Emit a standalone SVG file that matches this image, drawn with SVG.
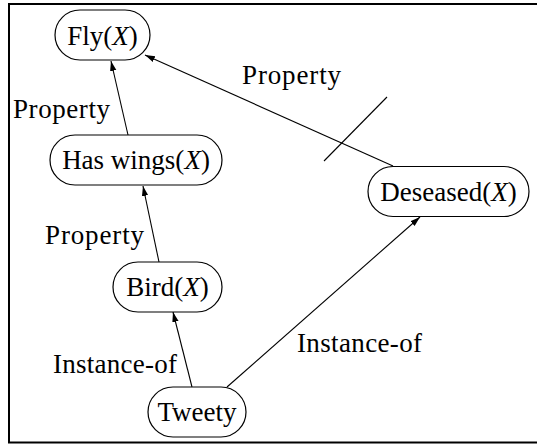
<svg xmlns="http://www.w3.org/2000/svg" width="537" height="444" viewBox="0 0 537 444">
<style>
.node rect{fill:#fff;stroke:#000;stroke-width:1.2}
.edge{stroke:#000;stroke-width:1.1;fill:none}
</style>
<defs>
<marker id="arr" markerUnits="userSpaceOnUse" markerWidth="10" markerHeight="8" viewBox="0 0 10 8" refX="10" refY="4" orient="auto">
<path d="M0,0.8 L10,4 L0,7.2 Z" fill="#000"/>
</marker>
</defs>
<rect x="9" y="4" width="531" height="438.5" fill="none" stroke="#000" stroke-width="2"/>
<g id="connectors">
<path class="edge" d="M128,135 L111,61" marker-end="url(#arr)"/>
<path class="edge" d="M159,262 L143,186" marker-end="url(#arr)"/>
<path class="edge" d="M192,387 L173,312" marker-end="url(#arr)"/>
<path class="edge" d="M227,387 L420,217" marker-end="url(#arr)"/>
<path class="edge" d="M393,166 L145,55" marker-end="url(#arr)"/>
<path class="edge" d="M387,97 L324,161"/>
<text x="242" y="84" font-family="Liberation Serif" font-size="27" textLength="99" lengthAdjust="spacing">Property</text>
<text x="13" y="118" font-family="Liberation Serif" font-size="27" textLength="97" lengthAdjust="spacing">Property</text>
<text x="45" y="244" font-family="Liberation Serif" font-size="27" textLength="99" lengthAdjust="spacing">Property</text>
<text x="53" y="373" font-family="Liberation Serif" font-size="27" textLength="124" lengthAdjust="spacing">Instance-of</text>
<text x="297" y="352" font-family="Liberation Serif" font-size="27" textLength="125" lengthAdjust="spacing">Instance-of</text>
</g>
<g id="fly" class="node">
<rect x="55" y="10" width="95" height="50" rx="25"/>
<text x="102.5" y="45" font-family="Liberation Serif" font-size="27" text-anchor="middle">Fly(<tspan font-style="italic">X</tspan>)</text>
</g>
<g id="haswings" class="node">
<rect x="50" y="135" width="172" height="50" rx="25"/>
<text x="136" y="169" font-family="Liberation Serif" font-size="27" text-anchor="middle">Has wings(<tspan font-style="italic">X</tspan>)</text>
</g>
<g id="bird" class="node">
<rect x="113" y="262" width="109" height="50" rx="25"/>
<text x="167.5" y="296" font-family="Liberation Serif" font-size="27" text-anchor="middle">Bird(<tspan font-style="italic">X</tspan>)</text>
</g>
<g id="deseased" class="node">
<rect x="368" y="166.5" width="161" height="50" rx="25"/>
<text x="448.5" y="200.5" font-family="Liberation Serif" font-size="27" text-anchor="middle">Deseased(<tspan font-style="italic">X</tspan>)</text>
</g>
<g id="tweety" class="node">
<rect x="148" y="387" width="98" height="50" rx="25"/>
<text x="197" y="421" font-family="Liberation Serif" font-size="27" text-anchor="middle">Tweety</text>
</g>
</svg>
